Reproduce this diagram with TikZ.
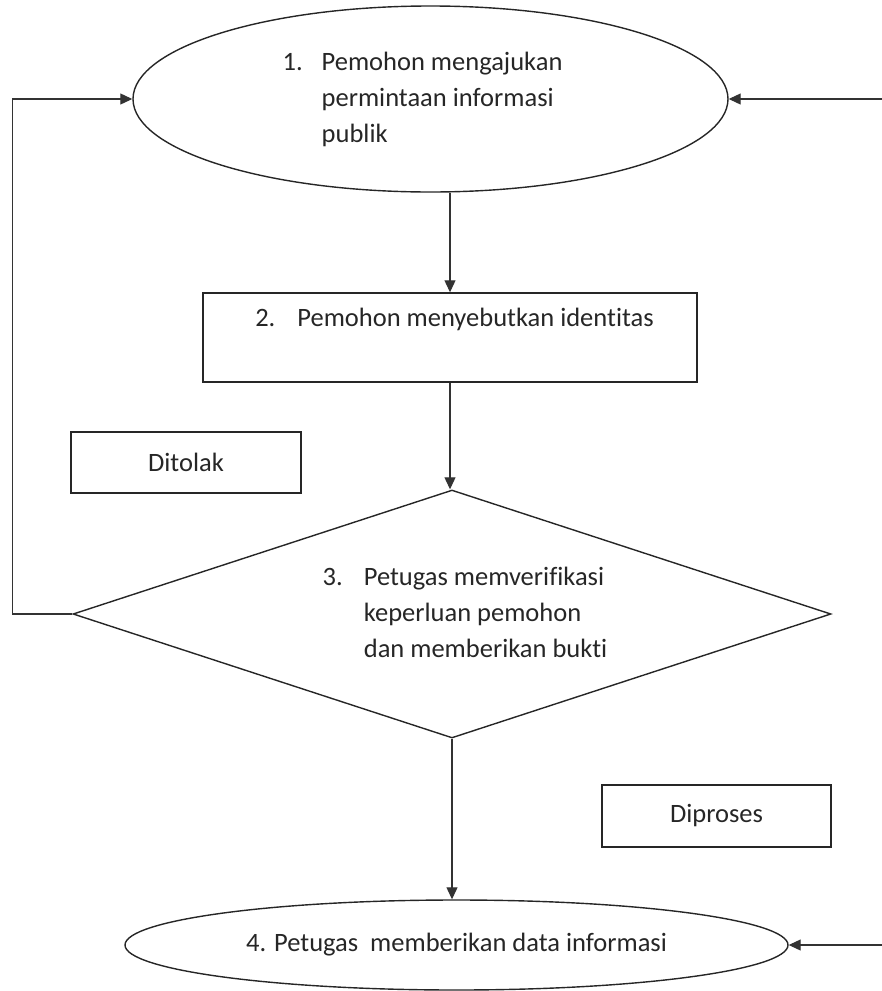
\documentclass[tikz,border=0pt]{standalone}
\usepackage{fontspec}
\setmainfont{Carlito}[Ligatures=NoCommon]
\usepackage{tikz}
\usetikzlibrary{shapes.geometric, arrows.meta, positioning}

\begin{document}
\begin{tikzpicture}[x=1pt, y=-1pt,
    every node/.style={font=\fontsize{26.5}{36}\selectfont, text=black!90},
    proc/.style={draw, line width=1.4pt, inner sep=0pt, black!85},
    flow/.style={-{Triangle[length=12pt, width=11pt]}, line width=1.1pt, black!80}]
    % Fix the canvas
    \useasboundingbox (0,0) rectangle (882,991);
    
    % Define entry points on the right edge
    \coordinate (in1) at (882, 99);
    \coordinate (in4) at (882, 945);
    
    % Draw the steps
    \node[proc, ellipse, minimum width=595pt, minimum height=186pt] (e1) at (430.5, 99)
        {\begin{tabular}{@{}l@{\hspace{19pt}}l@{\hspace{16pt}}}1. & Pemohon mengajukan\\ & permintaan informasi\\ & publik\end{tabular}};
    \node[proc, rectangle, minimum width=494pt, minimum height=89pt] (b2) at (450, 337.5)
        {\begin{tabular}{@{\hspace{9pt}}l@{\hspace{22pt}}l@{}}2. & Pemohon menyebutkan identitas\\ & \end{tabular}};
    \node[proc, diamond, aspect=3.06, minimum width=758pt, minimum height=248pt] (d3) at (452, 614)
        {\begin{tabular}{@{\hspace{26pt}}l@{\hspace{21pt}}l@{}}3. & Petugas memverifikasi\\ & keperluan pemohon\\ & dan memberikan bukti\end{tabular}};
    \node[proc, ellipse, minimum width=663pt, minimum height=90pt] (e4) at (456.5, 945)
        {4. Petugas\ \ memberikan data informasi};
    
    % Draw the branch labels
    \node[proc, rectangle, minimum width=230pt, minimum height=61pt] (tolak) at (186, 462.5) {Ditolak};
    \node[proc, rectangle, minimum width=229pt, minimum height=62pt] (proses) at (716.5, 816) {Diproses};
    
    % Draw the connectors
    \draw[flow] (e1.south -| b2.north) -- (b2.north);
    \draw[flow] (b2.south) -- (b2.south |- d3.north);
    \draw[flow] (d3.south) -- (d3.south |- e4.north);
    \draw[flow] (d3.west) -- ++(-60, 0) |- (e1.west);
    \draw[flow] (in1) -- (e1.east);
    \draw[flow] (in4) -- (e4.east);
    
\end{tikzpicture}
\end{document}
